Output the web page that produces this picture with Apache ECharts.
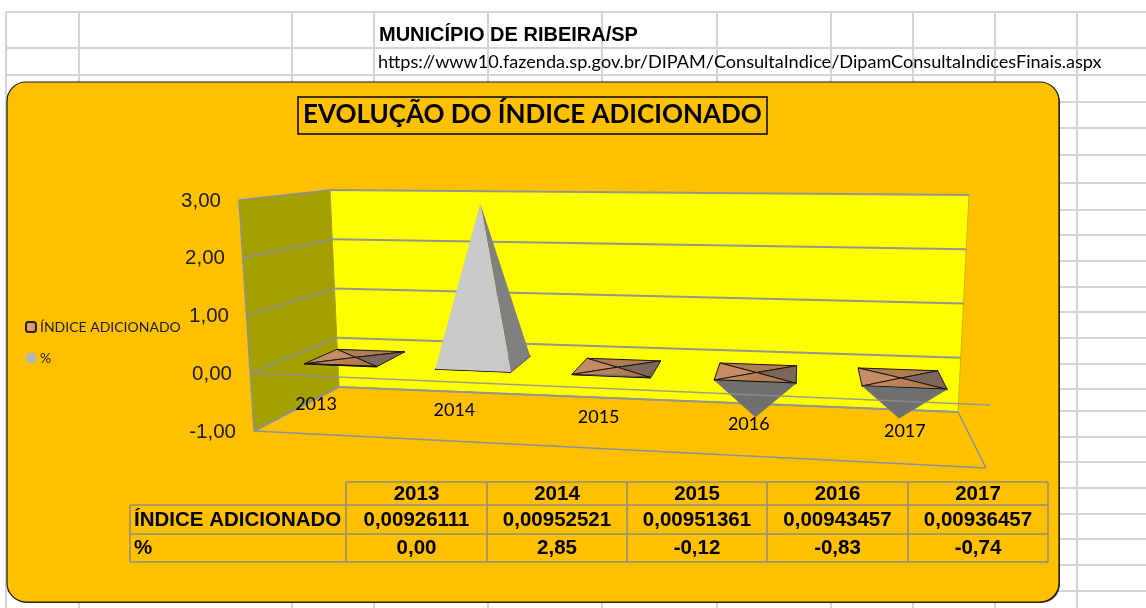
<!DOCTYPE html>
<html>
<head>
<meta charset="utf-8">
<script src="https://cdn.jsdelivr.net/npm/echarts@6/dist/echarts.min.js"></script>
<style>
  html, body { margin: 0; padding: 0; background: #fff; }
  #main { width: 1146px; height: 608px; }
</style>
</head>
<body>
<div id="main"></div>
<script>
// values
var years = ['2013', '2014', '2015', '2016', '2017'];
var indiceValues = [0.00926111, 0.00952521, 0.00951361, 0.00943457, 0.00936457];
var pctValues = [0.00, 2.85, -0.12, -0.83, -0.74];
var yTicks = [-1, 0, 1, 2, 3];

var indiceName = 'ÍNDICE ADICIONADO';
var pctName = '%';

// spreadsheet lines behind the chart
var sheetCols = [6, 79, 292, 374, 488, 602, 717, 831, 913, 995, 1077];
var sheetRows = [12, 48, 75, 102, 128, 155, 183, 210, 235, 261, 287, 312, 338, 364, 389, 411, 437, 462, 488, 514, 539, 565, 591];

// data table columns / rows
var tableCols = [130, 346, 487, 627, 767, 908, 1048];
var tableRows = [482, 505, 534, 562];

var chart = echarts.init(document.getElementById('main'));

function comma(v, n) {
  return v.toFixed(n).replace('.', ',');
}
function lerp(a, b, t) {
  return [a[0] + (b[0] - a[0]) * t, a[1] + (b[1] - a[1]) * t];
}

// corners of the 3d box as Excel drew it
var frontBL = [254, 431], frontBR = [986, 468], frontTL = [239, 200], frontTR = [1002, 216];
var backBL = [339, 387], backBR = [958, 412], backTL = [330, 190], backTR = [969, 195];

// u: 0..1 along the categories, t: 0..1 bottom to top of the value axis, d: 0 front .. 1 back
function project(u, t, d) {
  var w = u - 0.1 * u * (1 - u); // perspective squeeze on the left
  var front = lerp(lerp(frontBL, frontBR, w), lerp(frontTL, frontTR, w), t);
  var back = lerp(lerp(backBL, backBR, w), lerp(backTL, backTR, w), t);
  return lerp(front, back, d);
}
function toU(cs, px) { return (px - cs.x) / cs.width; }
function toT(cs, py) { return (cs.y + cs.height - py) / cs.height; }

var frameLine = { stroke: '#8c9098', lineWidth: 1.5, fill: null };
var gridLine = { stroke: '#94968e', lineWidth: 1.8, fill: null };

function poly(points, style) {
  return { type: 'polygon', shape: { points: points }, style: style };
}
function line(a, b, style) {
  return { type: 'line', shape: { x1: a[0], y1: a[1], x2: b[0], y2: b[1] }, style: style };
}

// walls and the outer edges
function renderWalls(params, api) {
  var cs = params.coordSys;
  var b = toT(cs, api.coord([0, yTicks[0]])[1]);
  var top = toT(cs, api.coord([0, yTicks[yTicks.length - 1]])[1]);
  return {
    type: 'group',
    children: [
      poly([project(0, top, 1), project(1, top, 1), project(1, b, 1), project(0, b, 1)], { fill: '#ffff00' }),
      poly([project(0, top, 0), project(0, top, 1), project(0, b, 1), project(0, b, 0)], { fill: '#a3a000' }),
      line(project(0, b, 0), project(0, top, 0), frameLine),
      line(project(0, b, 1), project(0, top, 1), { stroke: '#a0a040', lineWidth: 1 }),
      line(project(1, b, 1), project(1, top, 1), { stroke: '#c8b800', lineWidth: 1 }),
      line(project(0, b, 0), project(1, b, 0), frameLine),
      line(project(1, b, 0), project(1, b, 1), frameLine),
      line(project(0, b, 1), project(1, b, 1), frameLine),
      line(project(0, b, 0), project(0, b, 1), frameLine)
    ]
  };
}

// one grid line per tick: over the left wall and the back wall
function renderTick(params, api) {
  var cs = params.coordSys;
  var t = toT(cs, api.coord([0, api.value(1)])[1]);
  return {
    type: 'group',
    children: [
      line(project(0, t, 0), project(0, t, 1), frameLine),
      line(project(0, t, 1), project(1, t, 1), gridLine)
    ]
  };
}

// the front zero line runs over the marks
function renderZeroLine(params, api) {
  var cs = params.coordSys;
  var t = toT(cs, api.coord([0, 0])[1]);
  return line(project(0, t, 0), project(1, t, 0), { stroke: '#8c9098', lineWidth: 1.5, opacity: 0.85 });
}

function pyramidCorners(params, api) {
  var cs = params.coordSys;
  var idx = api.value(0);
  var apexPx = api.coord([idx, api.value(1)]);
  var u = toU(cs, apexPx[0]);
  var half = api.size([1, 0])[0] * 0.28 / cs.width;
  var t0 = toT(cs, api.coord([idx, 0])[1]);
  var apex = project(u, toT(cs, apexPx[1]), 0.5);
  if (api.value(1) > 0.5 || api.value(1) < -0.5) apex[1] -= 3; // tall tips sit a bit higher in the original
  return {
    fl: project(u - half, t0, 0.3),
    fr: project(u + half, t0, 0.3),
    bl: project(u - half, t0, 0.7),
    br: project(u + half, t0, 0.7),
    apex: apex
  };
}

function renderIndice(params, api) {
  var c = pyramidCorners(params, api);
  var edge = '#1c1712';
  var frontFill = new echarts.graphic.LinearGradient(0, 0, 1, 0, [
    { offset: 0, color: '#c78d66' }, { offset: 1, color: '#a97448' }
  ]);
  return {
    type: 'group',
    children: [
      poly([c.bl, c.br, c.apex], { fill: '#b07c56', stroke: edge, lineWidth: 1 }),
      poly([c.bl, c.fl, c.apex], { fill: '#c68c65', stroke: edge, lineWidth: 1 }),
      poly([c.br, c.fr, c.apex], { fill: '#7d665a', stroke: edge, lineWidth: 1 }),
      poly([c.fl, c.fr, c.apex], { fill: frontFill, stroke: edge, lineWidth: 1 }),
      line(c.fl, c.fr, { stroke: '#14100c', lineWidth: 1.6 })
    ]
  };
}

function renderPct(params, api) {
  var val = api.value(1);
  if (val === 0) return null;
  var c = pyramidCorners(params, api);
  if (val < 0) {
    return poly([c.fl, c.fr, c.apex], { fill: '#6f6f6f' });
  }
  return {
    type: 'group',
    children: [
      poly([c.fr, c.br, c.apex], { fill: '#808080' }),
      poly([c.fl, c.fr, c.apex], { fill: '#c9c9c9' })
    ]
  };
}

// category labels follow the slanted floor, so they cannot sit on a flat axis
function renderYearLabel(params, api) {
  var cs = params.coordSys;
  var idx = api.value(0);
  var px = api.coord([idx, yTicks[0]]);
  var t = toT(cs, px[1]) + 0.13;
  var p = project(toU(cs, px[0]), t, 0);
  return {
    type: 'text',
    style: {
      text: years[idx], x: p[0] - 3, y: p[1], align: 'center', verticalAlign: 'middle',
      fontFamily: 'Lato', fontSize: 18, fill: '#000'
    }
  };
}

// page furniture: sheet grid, card, heading, data table
var graphics = [];
sheetRows.forEach(function (y) {
  graphics.push({ type: 'line', shape: { x1: 6, y1: y, x2: 1146, y2: y }, style: { stroke: '#d4d4d4', lineWidth: 2 } });
});
sheetCols.forEach(function (x) {
  graphics.push({ type: 'line', shape: { x1: x, y1: 12, x2: x, y2: 608 }, style: { stroke: '#d4d4d4', lineWidth: 2 } });
});
graphics.push({ type: 'rect', shape: { x: 8, y: 83, width: 1052, height: 520, r: 19 }, style: { fill: '#4a3c10' } });
graphics.push({ type: 'rect', shape: { x: 7, y: 82, width: 1052, height: 520, r: 19 }, style: { fill: '#ffc000', stroke: '#1a1a1a', lineWidth: 1.2 } });
graphics.push({ type: 'text', style: { text: 'MUNICÍPIO DE RIBEIRA/SP', x: 379, y: 35, verticalAlign: 'middle', fontFamily: 'Liberation Sans', fontWeight: 'bold', fontSize: 20, fill: '#000' } });
graphics.push({ type: 'text', style: { text: 'https://www10.fazenda.sp.gov.br/DIPAM/ConsultaIndice/DipamConsultaIndicesFinais.aspx', x: 378, y: 62, verticalAlign: 'middle', fontFamily: 'Lato', fontSize: 18.1, fill: '#000' } });

function tableLine(x1, y1, x2, y2) {
  graphics.push({ type: 'line', shape: { x1: x1, y1: y1, x2: x2, y2: y2 }, style: { stroke: '#8c8c8c', lineWidth: 1.5 } });
}
tableLine(tableCols[1], tableRows[0], tableCols[6], tableRows[0]);
tableLine(tableCols[0], tableRows[1], tableCols[6], tableRows[1]);
tableLine(tableCols[0], tableRows[2], tableCols[6], tableRows[2]);
tableLine(tableCols[0], tableRows[3], tableCols[6], tableRows[3]);
tableLine(tableCols[0], tableRows[1], tableCols[0], tableRows[3]);
tableCols.slice(1).forEach(function (x) { tableLine(x, tableRows[0], x, tableRows[3]); });

function tableText(text, x, y, align) {
  graphics.push({
    type: 'text',
    style: { text: text, x: x, y: y, align: align, verticalAlign: 'middle', fontFamily: 'Liberation Sans', fontWeight: 'bold', fontSize: 20.5, fill: '#000' }
  });
}
tableText(indiceName, tableCols[0] + 4, (tableRows[1] + tableRows[2]) / 2 + 1, 'left');
tableText(pctName, tableCols[0] + 4, (tableRows[2] + tableRows[3]) / 2, 'left');
years.forEach(function (y, i) {
  var cx = (tableCols[i + 1] + tableCols[i + 2]) / 2;
  tableText(y, cx, (tableRows[0] + tableRows[1]) / 2 + 1, 'center');
  tableText(comma(indiceValues[i], 8), cx, (tableRows[1] + tableRows[2]) / 2 + 1, 'center');
  tableText(comma(pctValues[i], 2), cx, (tableRows[2] + tableRows[3]) / 2, 'center');
});

var labelShift = [0, 4, 7, 11, 15];
var yRich = {};
labelShift.forEach(function (s, i) {
  yRich['t' + i] = { fontFamily: 'Liberation Sans', fontSize: 20.5, color: '#1a1a1a', padding: [0, s, 0, 0] };
});

var option = {
  animation: false,
  backgroundColor: '#fff',
  title: {
    text: 'EVOLUÇÃO DO ÍNDICE ADICIONADO',
    left: 298,
    top: 97,
    padding: [4, 5, 5, 5],
    borderColor: '#000',
    borderWidth: 1.5,
    textStyle: { fontFamily: 'Lato', fontWeight: 'bold', fontSize: 26, color: '#000', lineHeight: 28 }
  },
  legend: {
    left: 25,
    top: 320,
    orient: 'vertical',
    selectedMode: false,
    itemWidth: 10,
    itemHeight: 10,
    itemGap: 17,
    padding: 0,
    data: [indiceName, pctName],
    textStyle: { fontFamily: 'Lato', fontSize: 14, color: '#1a1a1a', padding: [0, 0, 0, -1] }
  },
  graphic: { elements: graphics },
  grid: { left: 240, top: 201, width: 746, height: 231 },
  xAxis: {
    type: 'category',
    data: years,
    axisLine: { show: false },
    axisTick: { show: false },
    axisLabel: { show: false }
  },
  yAxis: {
    type: 'value',
    min: -1,
    max: 3,
    interval: 1,
    axisLine: { show: false },
    axisTick: { show: false },
    splitLine: { show: false },
    axisLabel: {
      margin: 4,
      rich: yRich,
      formatter: function (v, i) { return '{t' + i + '|' + comma(v, 2) + '}'; }
    }
  },
  series: [
    { type: 'custom', silent: true, z: 2, renderItem: renderWalls, data: [[0, yTicks[0]]] },
    { type: 'custom', silent: true, z: 3, renderItem: renderTick, data: yTicks.map(function (t) { return [0, t]; }) },
    {
      type: 'custom', name: indiceName, silent: true, z: 4, renderItem: renderIndice,
      itemStyle: {
        color: new echarts.graphic.LinearGradient(0, 0, 1, 0, [
          { offset: 0, color: '#e8b07a' }, { offset: 1, color: '#d88a58' }
        ]),
        borderColor: '#2a2418',
        borderWidth: 1.5
      },
      data: indiceValues.map(function (v, i) { return [i, v]; })
    },
    {
      type: 'custom', name: pctName, silent: true, z: 5, renderItem: renderPct,
      itemStyle: { color: '#b5b5b5' },
      data: pctValues.map(function (v, i) { return [i, v]; })
    },
    { type: 'custom', silent: true, z: 6, renderItem: renderZeroLine, data: [[0, 0]] },
    { type: 'custom', silent: true, z: 7, renderItem: renderYearLabel, data: years.map(function (y, i) { return [i, yTicks[0]]; }) }
  ]
};
chart.setOption(option);
</script>
</body>
</html>
